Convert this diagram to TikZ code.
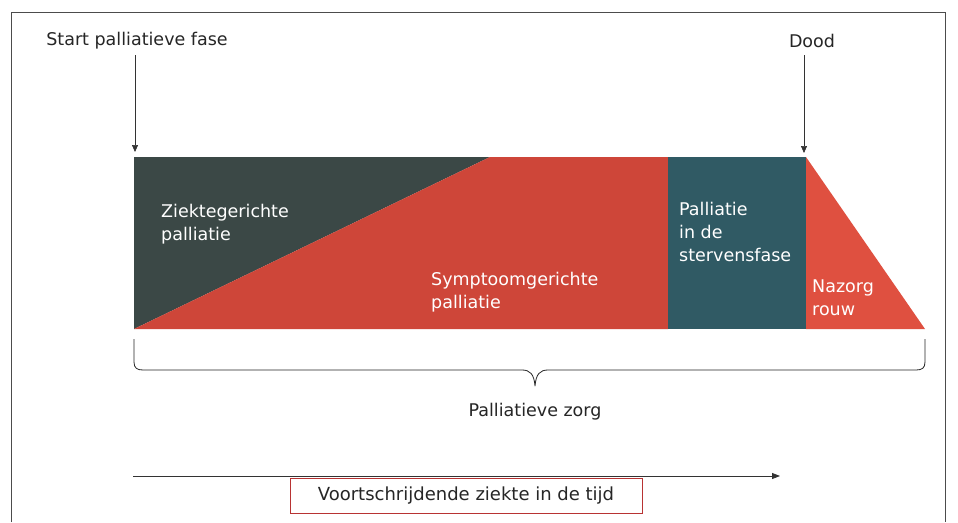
\documentclass[tikz,border=0pt]{standalone}
\usepackage{fontspec}
\setmainfont{DejaVu Sans}
\usetikzlibrary{arrows.meta}
\definecolor{darkgreen}{HTML}{3B4846}
\definecolor{redA}{HTML}{CE4639}
\definecolor{tealB}{HTML}{305A64}
\definecolor{redC}{HTML}{DF5040}
\begin{document}
\begin{tikzpicture}[x=1pt,y=-1pt,
  lbl/.style={font=\fontsize{17.5}{23}\selectfont,text=white,align=left,anchor=north west,inner sep=0pt},
  txt/.style={font=\fontsize{17.5}{21}\selectfont,text=black!85,inner sep=0pt},
  pointer/.style={-{Triangle[length=7pt,width=6pt]},draw=black!80,line width=0.7pt}]
\useasboundingbox (0,0) rectangle (958,522);
\fill[white] (0,0) rectangle (958,522);
% frame
\draw[black!70,line width=0.8pt] (11,522) -- (11,12) -- (945,12) -- (945,522);
% band
\fill[darkgreen] (134,157) -- (490,157) -- (134,329) -- cycle;
\fill[redA] (490,157) -- (668,157) -- (668,329) -- (134,329) -- cycle;
\fill[tealB] (668,157) rectangle (806,329);
\fill[redC] (806,157) -- (925,329) -- (806,329) -- cycle;
% labels in band
\node[lbl] (zg) at (161,204) {Ziektegerichte\\palliatie};
\node[lbl] (sg) at (431,272) {Symptoomgerichte\\palliatie};
\node[lbl] (st) at (679,202) {Palliatie\\in de\\stervensfase};
\node[lbl] (nz) at (812,280) {Nazorg\\rouw};
% top labels and arrows
\node[txt] (start) at (137,41) {Start palliatieve fase};
\node[txt] (dood) at (812,41) {Dood};
\coordinate (startend) at (135,152);
\coordinate (doodend) at (804,153);
\draw[pointer] (135,55) -- (startend);
\draw[pointer] (804,55) -- (doodend);
% brace
\coordinate (bl) at (134,339);
\coordinate (br) at (925,339);
\coordinate (btip) at (535,386);
\draw[black!85,line width=0.8pt,line join=round]
  (bl) -- (134,362) .. controls (134,368) and (137,370) .. (143,370)
  -- (522,370) .. controls (530,370) and (534,374) .. (btip)
  .. controls (536,374) and (540,370) .. (548,370)
  -- (916,370) .. controls (922,370) and (925,368) .. (925,362) -- (br);
\node[txt] (pz) at (535,412) {Palliatieve zorg};
% time axis
\coordinate (ax0) at (133,476);
\coordinate (ax1) at (780,476);
\draw[-{Triangle[length=8pt,width=6pt]},black!80,line width=0.8pt] (ax0) -- (ax1);
\node[draw=red!65!black!80,line width=0.8pt,fill=white,minimum width=352pt,minimum height=35pt,inner sep=0pt,font=\fontsize{18}{21}\selectfont,text=black!85] (vz) at (466,495.5) {Voortschrijdende ziekte in de tijd};
\end{tikzpicture}
\end{document}
